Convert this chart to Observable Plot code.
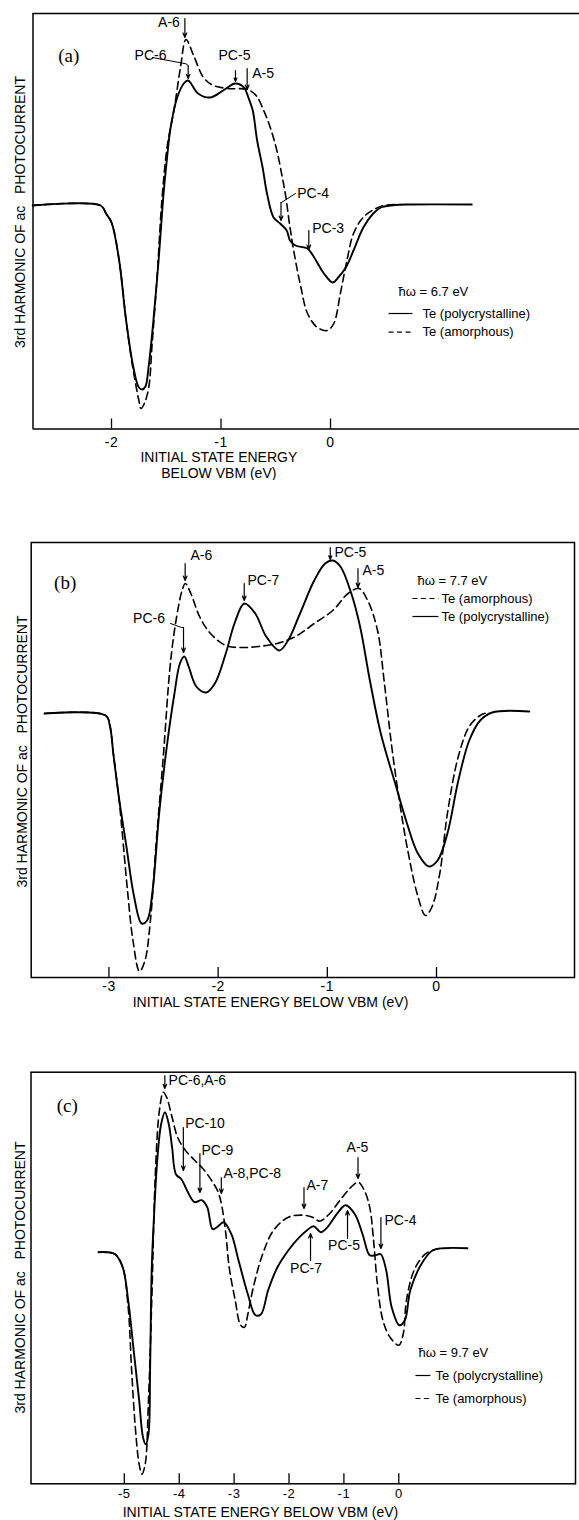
<!DOCTYPE html>
<html><head><meta charset="utf-8">
<script src="https://cdn.jsdelivr.net/npm/d3@7"></script>
<script src="https://cdn.jsdelivr.net/npm/@observablehq/plot@0.6"></script>
<style>
body{margin:0;background:#fff;}
#chart{width:579px;}
#chart svg{display:block;}
</style></head><body><div id="chart"></div>
<script>
const SANS = "'Liberation Sans', Arial, sans-serif";
const SERIF = "'Liberation Serif', 'Times New Roman', serif";

// ---------- Panel (a): ħω = 6.7 eV ----------  [energy (eV), signal (arb.)]
const aPoly = [[-2.72,0],[-2.10,0],[-2.05,-8],[-2.00,-17],[-1.93,-55],[-1.87,-112],[-1.80,-162],[-1.75,-182],[-1.72,-184],[-1.69,-181],[-1.66,-160],[-1.62,-118],[-1.57,-55],[-1.53,5],[-1.50,40],[-1.46,78],[-1.40,108],[-1.34,122],[-1.30,125],[-1.21,112],[-1.10,108],[-0.98,115],[-0.87,122],[-0.79,118],[-0.75,108],[-0.71,95],[-0.67,65],[-0.62,38],[-0.58,12],[-0.52,-12],[-0.46,-18],[-0.40,-25],[-0.37,-35],[-0.32,-40],[-0.21,-43],[-0.16,-50],[-0.06,-68],[0.02,-77],[0.07,-72],[0.14,-62],[0.21,-45],[0.30,-22],[0.39,-8],[0.46,-2],[0.59,0.5],[0.73,1],[1.29,1]];
const aAmor = [[-2.72,0],[-2.10,0],[-2.05,-8],[-2.00,-17],[-1.93,-55],[-1.87,-112],[-1.83,-145],[-1.79,-172],[-1.75,-195],[-1.73,-203],[-1.70,-198],[-1.66,-182],[-1.63,-140],[-1.58,-65],[-1.54,5],[-1.49,60],[-1.43,95],[-1.37,138],[-1.32,166],[-1.25,150],[-1.16,128],[-1.07,120],[-0.94,117],[-0.76,116],[-0.68,110],[-0.61,95],[-0.55,78],[-0.49,55],[-0.44,28],[-0.41,10],[-0.37,-22],[-0.32,-55],[-0.27,-82],[-0.21,-108],[-0.12,-122],[-0.03,-125],[0.03,-118],[0.09,-88],[0.15,-55],[0.21,-28],[0.29,-13],[0.38,-5],[0.49,0],[0.64,1]];
const aTicks = [-2,-1,0];
const aLabels = [
  {text:"A-6", x:-1.475, y:183, anchor:"middle"},
  {text:"PC-6", x:-1.644, y:150, anchor:"middle"},
  {text:"PC-5", x:-0.877, y:150, anchor:"middle"},
  {text:"A-5", x:-0.715, y:132, anchor:"start"},
  {text:"PC-4", x:-0.304, y:11.7, anchor:"start"},
  {text:"PC-3", x:-0.167, y:-23, anchor:"start"}
];
const aArrows = [
  {x:-1.33, y1:187, y2:168},
  {x:-1.30, y1:140, y2:127},
  {x:-0.868, y1:135, y2:124},
  {x:-0.761, y1:137, y2:116},
  {x:-0.452, y1:3, y2:-15},
  {x:-0.198, y1:-25, y2:-44}
];
const aLeaders = [
  {id:"PC-6", pts:[[-1.626,148],[-1.32,141.7],[-1.30,140]]},
  {id:"PC-4", pts:[[-0.32,12],[-0.447,3],[-0.452,3]]}
];

// ---------- Panel (b): ħω = 7.7 eV ----------
const bPoly = [[-3.59,0],[-3.03,-2],[-2.99,-13],[-2.96,-40],[-2.91,-83],[-2.84,-133],[-2.77,-183],[-2.70,-210],[-2.65,-207],[-2.60,-177],[-2.54,-100],[-2.47,-33],[-2.40,20],[-2.35,50],[-2.31,57],[-2.27,47],[-2.20,27],[-2.11,21],[-2.03,30],[-1.93,60],[-1.85,90],[-1.76,110],[-1.66,100],[-1.56,77],[-1.44,63],[-1.36,73],[-1.25,100],[-1.12,133],[-1.02,150],[-0.95,153],[-0.88,147],[-0.78,120],[-0.70,87],[-0.61,33],[-0.51,-20],[-0.37,-73],[-0.27,-110],[-0.17,-140],[-0.07,-153],[0.01,-147],[0.10,-120],[0.20,-67],[0.30,-27],[0.40,-7],[0.51,1],[0.85,2]];
const bAmor = [[-3.59,0],[-3.03,-2],[-2.99,-13],[-2.96,-40],[-2.91,-83],[-2.88,-117],[-2.83,-177],[-2.78,-227],[-2.72,-258],[-2.67,-247],[-2.62,-207],[-2.57,-133],[-2.50,-40],[-2.44,47],[-2.39,90],[-2.33,123],[-2.30,130],[-2.25,120],[-2.17,97],[-2.07,80],[-1.93,68],[-1.79,66],[-1.63,67],[-1.46,70],[-1.29,77],[-1.12,90],[-0.95,103],[-0.81,120],[-0.71,125],[-0.63,113],[-0.54,83],[-0.48,33],[-0.41,-33],[-0.34,-87],[-0.27,-133],[-0.17,-183],[-0.10,-202],[-0.04,-193],[0.03,-160],[0.10,-100],[0.20,-43],[0.30,-13],[0.40,-2],[0.47,1]];
const bTicks = [-3,-2,-1,0];
const bLabels = [
  {text:"A-6", x:-2.253, y:158, anchor:"start"},
  {text:"PC-6", x:-2.633, y:95, anchor:"middle"},
  {text:"PC-7", x:-1.731, y:133, anchor:"start"},
  {text:"PC-5", x:-0.934, y:161, anchor:"start"},
  {text:"A-5", x:-0.678, y:143, anchor:"start"}
];
const bArrows = [
  {x:-2.302, y1:150, y2:133},
  {x:-2.317, y1:86, y2:61},
  {x:-1.761, y1:130, y2:113},
  {x:-0.973, y1:166, y2:154},
  {x:-0.719, y1:145, y2:126}
];
const bLeaders = [
  {id:"PC-6", pts:[[-2.436,90],[-2.335,86],[-2.317,86]]}
];

// ---------- Panel (c): ħω = 9.7 eV ----------
const cPoly = [[-5.47,0],[-5.17,-2],[-5.03,-15],[-4.93,-48],[-4.83,-98],[-4.73,-148],[-4.66,-185],[-4.61,-192],[-4.56,-182],[-4.53,-115],[-4.50,-15],[-4.46,35],[-4.40,92],[-4.33,128],[-4.26,140],[-4.19,128],[-4.13,105],[-4.06,78],[-3.96,73],[-3.86,62],[-3.72,50],[-3.59,52],[-3.49,45],[-3.39,23],[-3.29,26],[-3.19,30],[-3.05,18],[-2.92,-8],[-2.75,-42],[-2.61,-63],[-2.51,-62],[-2.38,-38],[-2.21,-15],[-2.01,2],[-1.81,15],[-1.67,22],[-1.55,26],[-1.42,20],[-1.30,25],[-1.13,38],[-0.97,47],[-0.80,38],[-0.66,18],[-0.53,-3],[-0.43,-3],[-0.33,-2],[-0.23,-18],[-0.13,-55],[0.01,-73],[0.11,-68],[0.21,-38],[0.41,-12],[0.62,2],[0.82,4],[1.25,4]];
const cAmor = [[-5.47,0],[-5.17,-2],[-5.03,-15],[-4.93,-55],[-4.87,-115],[-4.80,-175],[-4.73,-212],[-4.68,-222],[-4.62,-212],[-4.56,-148],[-4.50,-48],[-4.43,85],[-4.36,142],[-4.29,160],[-4.23,155],[-4.13,135],[-4.03,115],[-3.89,102],[-3.72,92],[-3.56,83],[-3.39,70],[-3.29,60],[-3.22,45],[-3.15,18],[-3.09,-15],[-2.98,-48],[-2.88,-73],[-2.81,-75],[-2.75,-62],[-2.65,-35],[-2.48,-2],[-2.28,22],[-2.01,35],[-1.74,37],[-1.57,35],[-1.44,31],[-1.27,38],[-1.07,52],[-0.87,65],[-0.74,70],[-0.63,62],[-0.53,45],[-0.46,12],[-0.39,-32],[-0.29,-68],[-0.16,-85],[0.00,-93],[0.08,-82],[0.14,-48],[0.28,-18],[0.48,-2],[0.68,3],[0.82,4]];
const cTicks = [-5,-4,-3,-2,-1,0];
const cLabels = [
  {text:"PC-6,A-6", x:-4.194, y:171.7, anchor:"start"},
  {text:"PC-10", x:-3.892, y:128.7, anchor:"start"},
  {text:"PC-9", x:-3.594, y:101.7, anchor:"start"},
  {text:"A-8,PC-8", x:-3.193, y:78.7, anchor:"start"},
  {text:"A-7", x:-1.681, y:66.7, anchor:"start"},
  {text:"A-5", x:-0.752, y:104.7, anchor:"middle"},
  {text:"PC-4", x:-0.26, y:31.7, anchor:"start"},
  {text:"PC-5", x:-0.998, y:6.7, anchor:"middle"},
  {text:"PC-7", x:-1.69, y:-16.3, anchor:"middle"}
];
const cArrows = [
  {x:-4.262, y1:176.7, y2:163.7},
  {x:-3.925, y1:124.7, y2:81.7},
  {x:-3.623, y1:98.7, y2:59.7},
  {x:-3.233, y1:74.7, y2:58.7},
  {x:-1.727, y1:64.7, y2:43.7},
  {x:-0.743, y1:94.7, y2:73.7},
  {x:-0.326, y1:34.7, y2:3.7},
  {x:-0.934, y1:13.7, y2:41.7},
  {x:-1.608, y1:-8.3, y2:18.7}
];
const cLeaders = [];

const YLABEL = "3rd HARMONIC OF ac\u00a0\u00a0\u00a0PHOTOCURRENT";
const POLY = "Te (polycrystalline)";
const AMOR = "Te (amorphous)";

const panels = [
  {height:480, mt:13, mb:51.5, ml:32.5, mr:0, open:true,
   xDomain:[-2.717, 2.274], yDomain:[-223.5, 192], ticks:aTicks, tickPad:18.3, tickFont:14,
   poly:aPoly, amor:aAmor, labels:aLabels, arrows:aArrows, leaders:aLeaders,
   tag:{text:"(a)", x:-2.39, y:150},
   legend:{title:"ħω = 6.7 eV", tx:0.621, ty:-86.7, l1:0.53, l2:0.749, t:0.84,
     rows:[{text:POLY, y:-108, dash:null},{text:AMOR, y:-126.7, dash:"5,3.5"}]},
   ylab:{y:-6.5, dx:-12.5}, xtitle:{text:"INITIAL STATE ENERGY\nBELOW VBM (eV)", x:-1.02, dy:36}},
  {height:530, mt:62, mb:33, ml:30.7, mr:5, open:false,
   xDomain:[-3.712, 1.264], yDomain:[-264, 171], ticks:bTicks, tickPad:13.1, tickFont:14,
   poly:bPoly, amor:bAmor, labels:bLabels, arrows:bArrows, leaders:bLeaders,
   tag:{text:"(b)", x:-3.401, y:131},
   legend:{title:"ħω = 7.7 eV", tx:-0.174, ty:133, l1:-0.22, l2:0.018, t:0.046,
     rows:[{text:AMOR, y:115, dash:"5,3.5"},{text:POLY, y:97, dash:null}]},
   ylab:{y:-38, dx:-8.7}, xtitle:{text:"INITIAL STATE ENERGY BELOW VBM (eV)", x:-1.52, dy:25}},
  {height:510, mt:61.7, mb:36.7, ml:30.5, mr:4, open:false,
   xDomain:[-6.70, 3.219], yDomain:[-231.6, 180], ticks:cTicks, tickPad:15.1, tickFont:13,
   poly:cPoly, amor:cAmor, labels:cLabels, arrows:cArrows, leaders:cLeaders,
   tag:{text:"(c)", x:-6.04, y:146.7},
   legend:{title:"ħω = 9.7 eV", tx:0.359, ty:-100.3, l1:0.303, l2:0.577, t:0.668,
     rows:[{text:POLY, y:-123.3, dash:null},{text:AMOR, y:-146.3, dash:"5,3.5"}]},
   ylab:{y:-25.3, dx:-10.5}, xtitle:{text:"INITIAL STATE ENERGY BELOW VBM (eV)", x:-2.52, dy:28.4}}
];

const fmt = d => d < 0 ? "-" + (-d) : String(d);
const X = d => d[0], Y = d => d[1];

function makePanel(p) {
  const marks = [];
  if (p.open) {
    marks.push(Plot.ruleY(p.yDomain, {stroke:"black", strokeWidth:1.5}));
    marks.push(Plot.ruleX([p.xDomain[0]], {stroke:"black", strokeWidth:1.5}));
  } else {
    marks.push(Plot.frame({stroke:"black", strokeWidth:1.5}));
  }
  marks.push(Plot.axisX({ticks:p.ticks, tickSize:-10, tickPadding:p.tickPad, fontSize:p.tickFont,
    tickFormat:fmt, strokeWidth:1.3, label:null}));
  marks.push(Plot.line(p.amor, {x:X, y:Y, curve:"catmull-rom", stroke:"black", strokeWidth:1.6, strokeDasharray:"7.5,4.5"}));
  marks.push(Plot.line(p.poly, {x:X, y:Y, curve:"catmull-rom", stroke:"black", strokeWidth:1.9}));
  const lead = p.leaders.flatMap(l => l.pts.map(pt => ({id:l.id, x:pt[0], y:pt[1]})));
  if (lead.length) marks.push(Plot.line(lead, {x:"x", y:"y", z:"id", stroke:"black", strokeWidth:1}));
  marks.push(Plot.arrow(p.arrows, {x1:"x", x2:"x", y1:"y1", y2:"y2", stroke:"black", strokeWidth:1.2, headLength:6, headAngle:45}));
  for (const a of ["start","middle"]) {
    marks.push(Plot.text(p.labels.filter(d => d.anchor === a), {x:"x", y:"y", text:"text", textAnchor:a, fontSize:14, ariaLabel:"ann"}));
  }
  marks.push(Plot.text([p.tag], {x:"x", y:"y", text:"text", fontFamily:SERIF, fontSize:19}));
  const L = p.legend;
  marks.push(Plot.text([L], {x:"tx", y:"ty", text:"title", textAnchor:"start", fontSize:13, ariaLabel:"legend"}));
  for (const r of L.rows) {
    marks.push(Plot.link([r], {x1:() => L.l1, x2:() => L.l2, y1:"y", y2:"y", stroke:"black", strokeWidth:1.2, strokeDasharray:r.dash}));
    marks.push(Plot.text([r], {x:() => L.t, y:"y", text:"text", textAnchor:"start", fontSize:13, ariaLabel:"legend"}));
  }
  marks.push(Plot.text([{text:YLABEL, y:p.ylab.y}], {y:"y", text:"text", frameAnchor:"left", textAnchor:"middle", lineAnchor:"middle", dx:p.ylab.dx, rotate:-90, fontSize:14, ariaLabel:"ylabel"}));
  marks.push(Plot.text([p.xtitle], {x:"x", text:"text", frameAnchor:"bottom", textAnchor:"middle", dy:p.xtitle.dy, lineAnchor:"middle", lineHeight:1.1, fontSize:14, ariaLabel:"xtitle"}));

  const svg = Plot.plot({
    width:579, height:p.height,
    marginTop:p.mt, marginBottom:p.mb, marginLeft:p.ml, marginRight:p.mr,
    x:{domain:p.xDomain},
    y:{domain:p.yDomain, axis:null},
    style:{fontFamily:SANS, background:"white", color:"black"},
    marks
  });
  const ls = {"ann":"1.1px", "legend":"1.1px", "ylabel":"1.6px", "xtitle":"2.3px", "x-axis tick label":"0.5px"};
  for (const k in ls) svg.querySelectorAll(`g[aria-label="${k}"] text`).forEach(t => t.style.letterSpacing = ls[k]);
  return svg;
}

const root = document.getElementById("chart");
for (const p of panels) root.appendChild(makePanel(p));
</script>
</body></html>
